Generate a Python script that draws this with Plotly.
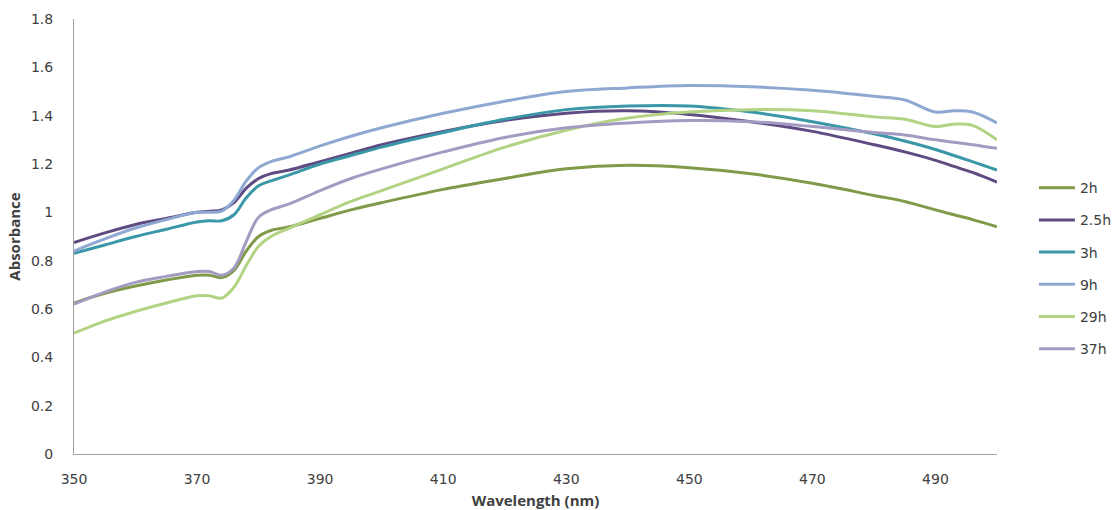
import plotly.graph_objects as go

wavelength = [350, 355, 360, 365, 370, 372, 374, 376, 378, 380, 382, 385, 390, 395, 400,
              410, 420, 430, 440, 450, 460, 470, 480, 485, 490, 493, 496, 500]

abs_2h = [0.625, 0.665, 0.695, 0.72, 0.74, 0.74, 0.73, 0.76, 0.84, 0.90, 0.925, 0.94, 0.975, 1.01, 1.04,
          1.095, 1.14, 1.18, 1.195, 1.185, 1.16, 1.12, 1.07, 1.045, 1.01, 0.99, 0.97, 0.94]
abs_2_5h = [0.875, 0.915, 0.95, 0.975, 1.0, 1.005, 1.01, 1.04, 1.10, 1.14, 1.16, 1.175, 1.21, 1.245, 1.28,
            1.335, 1.38, 1.41, 1.42, 1.405, 1.375, 1.335, 1.28, 1.25, 1.215, 1.19, 1.165, 1.125]
abs_3h = [0.83, 0.865, 0.9, 0.93, 0.96, 0.965, 0.965, 0.99, 1.06, 1.11, 1.13, 1.155, 1.2, 1.235, 1.27,
          1.33, 1.385, 1.425, 1.44, 1.44, 1.415, 1.375, 1.325, 1.295, 1.26, 1.235, 1.21, 1.175]
abs_9h = [0.84, 0.89, 0.935, 0.97, 1.0, 1.0, 1.005, 1.05, 1.13, 1.185, 1.21, 1.23, 1.275, 1.315, 1.35,
          1.41, 1.46, 1.5, 1.515, 1.525, 1.52, 1.505, 1.48, 1.465, 1.415, 1.42, 1.415, 1.37]
abs_29h = [0.5, 0.55, 0.59, 0.625, 0.655, 0.655, 0.645, 0.69, 0.78, 0.86, 0.9, 0.935, 0.99, 1.045, 1.09,
           1.18, 1.27, 1.34, 1.39, 1.415, 1.425, 1.42, 1.395, 1.385, 1.355, 1.365, 1.36, 1.30]
abs_37h = [0.62, 0.67, 0.71, 0.735, 0.755, 0.755, 0.74, 0.77, 0.88, 0.98, 1.01, 1.035, 1.09, 1.14, 1.18,
           1.25, 1.31, 1.35, 1.37, 1.38, 1.375, 1.355, 1.33, 1.32, 1.30, 1.29, 1.28, 1.265]

series_names = ["2h", "2.5h", "3h", "9h", "29h", "37h"]
series_values = [abs_2h, abs_2_5h, abs_3h, abs_9h, abs_29h, abs_37h]
series_colors = ["#7F9A48", "#5E4B82", "#3A97A8", "#8FA8D2", "#B2D284", "#A39BC2"]

x_ticks = [350, 370, 390, 410, 430, 450, 470, 490]
y_ticks = [0, 0.2, 0.4, 0.6, 0.8, 1, 1.2, 1.4, 1.6, 1.8]

fig = go.Figure()
for name, vals, col in zip(series_names, series_values, series_colors):
    fig.add_trace(go.Scatter(
        x=wavelength, y=vals, name=name, mode="lines",
        line=dict(color=col, width=3, shape="spline", smoothing=1.0),
        legendgroup=name,
    ))

fig.update_layout(
    width=1113, height=510,
    margin=dict(l=74, r=116, t=19, b=56, autoexpand=False),
    paper_bgcolor="white", plot_bgcolor="white",
    font=dict(family="DejaVu Sans", size=14, color="#404040"),
    legend=dict(
        x=1.040, y=0.648, xanchor="left", yanchor="top",
        font=dict(family="DejaVu Sans", size=14, color="#404040"),
        tracegroupgap=11, itemwidth=36,
        bgcolor="rgba(0,0,0,0)",
    ),
    xaxis=dict(
        range=[350, 500], tickvals=x_ticks, ticktext=[str(v) for v in x_ticks],
        showgrid=False, zeroline=False, showline=True, linecolor="#A0A0A0", linewidth=1,
        ticks="", tickfont=dict(family="DejaVu Sans", size=14, color="#404040"),
        ticklabelstandoff=12,
        title=dict(text="<b>Wavelength (nm)</b>", standoff=12,
                   font=dict(family="Open Sans", size=15, color="#404040")),
    ),
    yaxis=dict(
        range=[0, 1.8], tickvals=y_ticks,
        showgrid=False, zeroline=False, showline=True, linecolor="#A0A0A0", linewidth=1,
        ticks="", tickfont=dict(family="DejaVu Sans", size=14, color="#404040"),
        ticklabelstandoff=17,
        title=dict(text="<b>Absorbance</b>", standoff=6,
                   font=dict(family="Open Sans", size=15, color="#404040")),
    ),
)

fig.write_html("out.html")
